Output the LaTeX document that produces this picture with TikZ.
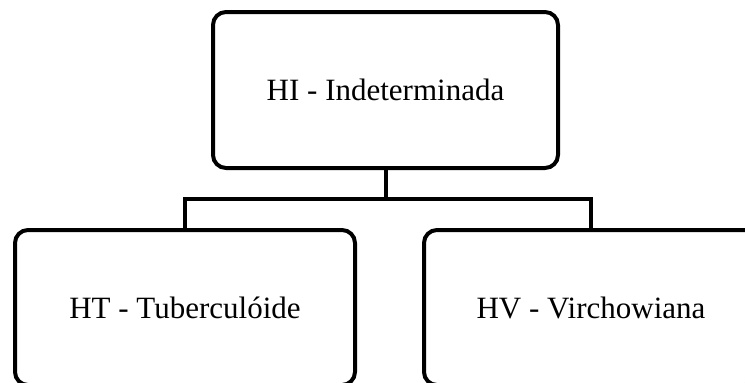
\documentclass[tikz,border=0pt]{standalone}
\usepackage{fontspec}
\setmainfont{Liberation Serif}
\begin{document}
\begin{tikzpicture}[x=1pt, y=-1pt,
  box/.style={shape=rectangle, draw=black, line width=4pt, rounded corners=13pt, font=\fontsize{31}{36}\selectfont},
  link/.style={-, line width=4pt, draw=black}]
\useasboundingbox (0,0) rectangle (745,383);
\clip (0,0) rectangle (745,383);
\node[box, minimum width=345pt, minimum height=156pt] (HI) at (385.5,90) {HI - Indeterminada};
\node[box, minimum width=340pt, minimum height=155pt] (HT) at (185,307.5) {HT - Tuberculóide};
\node[box, minimum width=334pt, minimum height=155pt] (HV) at (591,307.5) {HV - Virchowiana};
\coordinate (J) at (385.5,199);
\path [link] (HI.south) edge (J);
\draw [link] (J) -| (HT.north);
\draw [link] (J) -| (HV.north);
\end{tikzpicture}
\end{document}
